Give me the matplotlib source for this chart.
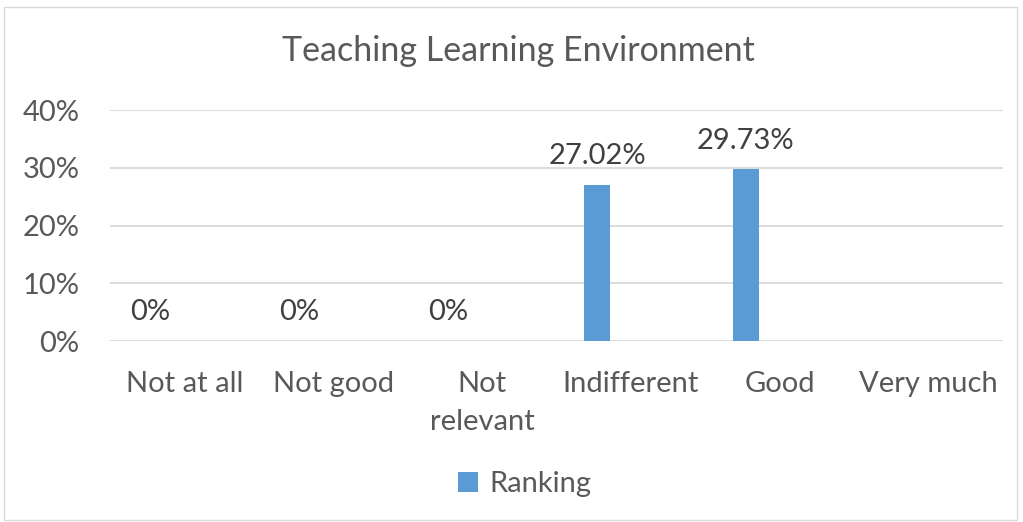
import numpy as np
import matplotlib.pyplot as plt
from matplotlib.patches import Rectangle

categories = ['Not at all', 'Not good', 'Not\nrelevant', 'Indifferent', 'Good', 'Very much']
values = [0, 0, 0, 27.02, 29.73, np.nan]
labels = ['0%', '0%', '0%', '27.02%', '29.73%', '']
yticks = [0, 10, 20, 30, 40]

plt.rcParams['font.family'] = ['Lato', 'DejaVu Sans']
grey = '#595959'

fig = plt.figure(figsize=(10.23, 5.22), dpi=100)
ax = fig.add_axes([0.1075, 0.3467, 0.873, 0.4423])

x = np.arange(len(categories))
off = -0.228
ax.bar(x + off, np.nan_to_num(values), width=0.175, color='#5b9bd5', label='Ranking', zorder=3)
for xi, v, lab in zip(x, values, labels):
    if lab:
        ax.text(xi + off, v + 5.0, lab, ha='center', va='center', fontsize=21, color='#404040')

ax.set_xlim(-0.5, len(categories) - 0.5)
ax.set_ylim(0, 40)
ax.set_yticks(yticks)
ax.set_yticklabels([f'{t}%' for t in yticks])
ax.set_xticks(x)
ax.set_xticklabels(categories, linespacing=1.6)
ax.tick_params(axis='y', length=0, pad=22, labelsize=21, labelcolor=grey)
ax.tick_params(axis='x', length=0, pad=21.5, labelsize=21, labelcolor=grey)
ax.grid(axis='y', color='#d9d9d9', linewidth=1.3, zorder=0)
for s in ax.spines.values():
    s.set_visible(False)

fig.text(0.507, 0.903, 'Teaching Learning Environment', ha='center', va='center',
         fontsize=24.5, color=grey)

leg = fig.legend(loc='center', bbox_to_anchor=(0.513, 0.072), frameon=False,
                 fontsize=21, handlelength=0.7, handleheight=0.7, handletextpad=0.4)
for t in leg.get_texts():
    t.set_color(grey)

fig.patches.append(Rectangle((0.004, 0.004), 0.99, 0.982, transform=fig.transFigure,
                             fill=False, edgecolor='#d9d9d9', linewidth=1))

fig.savefig('out.png', dpi=100)
